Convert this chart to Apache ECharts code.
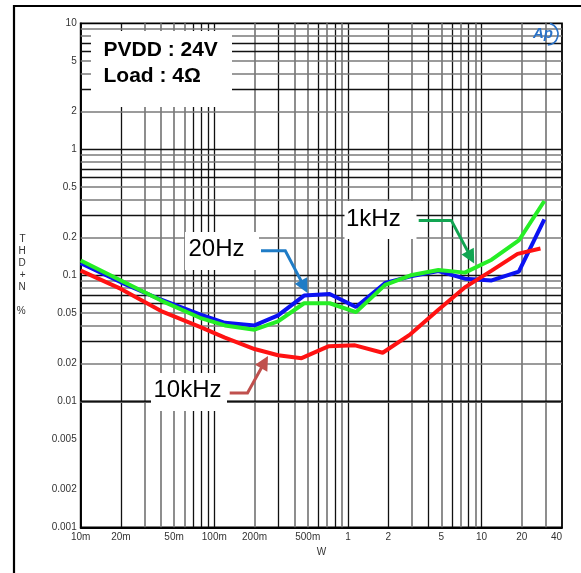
<!DOCTYPE html>
<html><head><meta charset="utf-8">
<script src="https://cdn.jsdelivr.net/npm/echarts@6/dist/echarts.min.js"></script>
<style>html,body{margin:0;padding:0;background:#fff}#c{width:581px;height:573px}</style>
</head><body><div id="c"></div>
<script>
// ---- data ----
const powerW    = [0.01, 0.02, 0.04, 0.078, 0.12, 0.2, 0.3, 0.47, 0.73, 1.15, 1.9, 2.95, 4.75, 7.5, 11.9, 19, 29.5];
const powerW10k = [0.01, 0.02, 0.04, 0.078, 0.12, 0.2, 0.3, 0.45, 0.72, 1.13, 1.82, 2.93, 4.73, 7.6, 11.9, 18.6, 27.6];
const thd20Hz   = [0.125, 0.088, 0.064, 0.049, 0.042, 0.040, 0.048, 0.069, 0.071, 0.056, 0.087, 0.098, 0.108, 0.094, 0.091, 0.107, 0.278];
const thd1kHz   = [0.131, 0.091, 0.063, 0.046, 0.040, 0.037, 0.043, 0.060, 0.060, 0.051, 0.084, 0.100, 0.110, 0.105, 0.133, 0.189, 0.389];
const thd10kHz  = [0.109, 0.078, 0.052, 0.039, 0.032, 0.026, 0.0232, 0.022, 0.0274, 0.0278, 0.0243, 0.034, 0.053, 0.081, 0.109, 0.148, 0.163];

const xTickValues = [0.01, 0.02, 0.05, 0.1, 0.2, 0.5, 1, 2, 5, 10, 20, 40];
const xTickLabels = ['10m', '20m', '50m', '100m', '200m', '500m', '1', '2', '5', '10', '20', '40'];
const yTickValues = [0.001, 0.002, 0.005, 0.01, 0.02, 0.05, 0.1, 0.2, 0.5, 1, 2, 5, 10];
const yTickLabels = ['0.001', '0.002', '0.005', '0.01', '0.02', '0.05', '0.1', '0.2', '0.5', '1', '2', '5', '10'];

const xGridValues = [0.02,0.03,0.04,0.05,0.06,0.07,0.08,0.09, 0.1,0.2,0.3,0.4,0.5,0.6,0.7,0.8,0.9, 1,2,3,4,5,6,7,8,9, 10,20,30];
const yGridValues = [0.002,0.003,0.004,0.005,0.006,0.007,0.008,0.009, 0.01,0.02,0.03,0.04,0.05,0.06,0.07,0.08,0.09,
                     0.1,0.2,0.3,0.4,0.5,0.6,0.7,0.8,0.9, 1,2,3,4,5,6,7,8,9];

// ---- styles ----
const DARK = '#111', GRAY = '#7a7a7a';
const xDark = [0.02,0.07,0.08,0.09,0.1,0.3,0.6,0.8,1,2,4,6,8,10];
const yDarkMult = [1,3,6,7];
function near(a,b){ return Math.abs(Math.log10(a)-Math.log10(b)) < 1e-6; }
function mult(v){ return Math.round(v / Math.pow(10, Math.floor(Math.log10(v) + 1e-9))); }

const gridMarks = [];
xGridValues.forEach(v => {
  const dark = xDark.some(d => near(d, v));
  gridMarks.push({ xAxis: v, lineStyle: { color: dark ? DARK : GRAY, width: dark ? 1.3 : 1.7, type: 'solid' } });
});
yGridValues.forEach(v => {
  const dark = yDarkMult.indexOf(mult(v)) >= 0;
  gridMarks.push({ yAxis: v, lineStyle: { color: dark ? DARK : GRAY, width: dark ? 1.3 : 1.7, type: 'solid' } });
});

const FONT = '"Liberation Sans", Arial, sans-serif';
const chart = echarts.init(document.getElementById('c'), null, { renderer: 'canvas' });

function pairs(xs, ys){ return xs.map((x, i) => [x, ys[i]]); }

chart.setOption({
  animation: false,
  backgroundColor: '#fff',
  grid: { left: 80.7, top: 23.3, width: 481.3, height: 504, show: true, borderColor: '#000', borderWidth: 1.8, backgroundColor: 'transparent' },
  xAxis: {
    type: 'log', logBase: 10, min: 0.01, max: 40,
    name: 'W', nameLocation: 'middle', nameGap: 20,
    nameTextStyle: { fontFamily: FONT, fontSize: 10, color: '#333' },
    axisLine: { show: true, onZero: false, lineStyle: { color: '#000', width: 1.8 } },
    axisTick: { show: false, customValues: xTickValues },
    splitLine: { show: false },
    axisLabel: {
      customValues: xTickValues, margin: 5, fontFamily: FONT, fontSize: 10, color: '#333', hideOverlap: false,
      alignMaxLabel: 'right',
      formatter: v => { const i = xTickValues.findIndex(t => near(t, v)); return i >= 0 ? xTickLabels[i] : ''; }
    }
  },
  yAxis: {
    type: 'log', logBase: 10, min: 0.001, max: 10,
    name: 'T\nH\nD\n+\nN\n\n%', nameLocation: 'middle', nameGap: 55, nameRotate: 0,
    nameTextStyle: { fontFamily: FONT, fontSize: 10, color: '#333', lineHeight: 12 },
    axisLine: { show: true, onZero: false, lineStyle: { color: '#000', width: 1.8 } },
    axisTick: { show: false, customValues: yTickValues },
    splitLine: { show: false },
    axisLabel: {
      customValues: yTickValues, margin: 4, fontFamily: FONT, fontSize: 10, color: '#333', hideOverlap: false,
      formatter: v => { const i = yTickValues.findIndex(t => near(t, v)); return i >= 0 ? yTickLabels[i] : ''; }
    }
  },
  series: [
    {
      name: 'grid', type: 'line', data: [], silent: true,
      markLine: { z: 1, silent: true, symbol: ['none', 'none'], animation: false, label: { show: false }, emphasis: { disabled: true }, data: gridMarks }
    },
    { name: '20Hz', type: 'line', z: 10, data: pairs(powerW, thd20Hz), showSymbol: false, lineStyle: { color: '#0b12f2', width: 4 }, itemStyle: { color: '#0b12f2' } },
    { name: '1kHz', type: 'line', z: 11, data: pairs(powerW, thd1kHz), showSymbol: false, lineStyle: { color: '#26ee26', width: 4 }, itemStyle: { color: '#26ee26' } },
    { name: '10kHz', type: 'line', z: 12, data: pairs(powerW10k, thd10kHz), showSymbol: false, lineStyle: { color: '#ff1212', width: 4 }, itemStyle: { color: '#ff1212' } }
  ]
});

// ---- annotations ----
function arrow(pts, color) {
  const n = pts.length;
  const [x1, y1] = pts[n - 2], [x2, y2] = pts[n - 1];
  const dx = x2 - x1, dy = y2 - y1, L = Math.hypot(dx, dy), ux = dx / L, uy = dy / L;
  const hl = 14, hw = 7;
  const bx = x2 - ux * hl, by = y2 - uy * hl;
  const linePts = pts.slice(0, n - 1).concat([[bx + ux * 2, by + uy * 2]]);
  return [
    { type: 'polyline', z: 6, shape: { points: linePts }, style: { stroke: color, lineWidth: 3, fill: null } },
    { type: 'polygon', z: 6, shape: { points: [[x2, y2], [bx - uy * hw, by + ux * hw], [bx + uy * hw, by - ux * hw]] }, style: { fill: color } }
  ];
}
function box(x, y, w, h) { return { type: 'rect', z: 3, shape: { x, y, width: w, height: h }, style: { fill: '#fff' } }; }
function label(t, x, y, size, weight) {
  return { type: 'text', z: 5, x, y, style: { text: t, fontFamily: FONT, fontSize: size, fontWeight: weight || 'normal', fill: '#000', align: 'left', verticalAlign: 'middle' } };
}

const g = [
  { type: 'rect', z: 20, shape: { x: 14, y: 6, width: 620, height: 620 }, style: { stroke: '#000', lineWidth: 2.2, fill: null } },
  box(91, 31, 141, 76),
  label('PVDD : 24V', 103.5, 50.5, 21, 'bold'),
  label('Load : 4Ω', 103.5, 76, 21, 'bold'),
  box(185, 232, 74, 38),
  label('20Hz', 188.5, 249, 24),
  box(344.5, 201, 72, 38),
  label('1kHz', 346, 219, 24),
  box(151, 373, 76, 38),
  label('10kHz', 153.5, 390, 24),
  ...arrow([[261, 250.7], [285.3, 250.7], [307.5, 293]], '#1f7cc6'),
  ...arrow([[418.7, 220.4], [451.3, 220.4], [474.2, 263.5]], '#12a552'),
  ...arrow([[229.7, 392.9], [247.5, 392.9], [268, 356]], '#c0504d'),
  { type: 'text', z: 6, x: 533, y: 34, style: { text: 'Ap', fontFamily: FONT, fontSize: 15, fontStyle: 'italic', fontWeight: 'bold', fill: '#2a72c8', align: 'left', verticalAlign: 'middle' } },
  { type: 'arc', z: 6, shape: { cx: 547, cy: 34, r: 11, startAngle: -1.3, endAngle: 1.5 }, style: { stroke: '#2a72c8', lineWidth: 1.6, fill: null } }
];
chart.setOption({ graphic: { elements: g } });
</script>
</body></html>
